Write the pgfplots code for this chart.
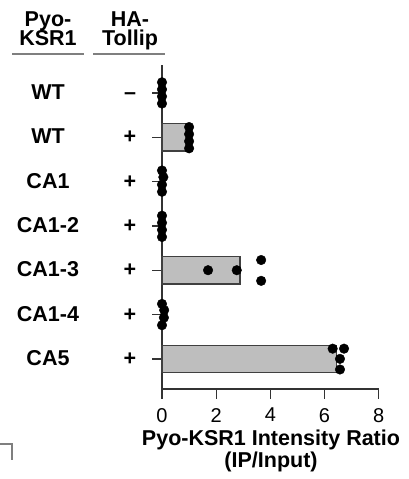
\documentclass[border=0pt]{standalone}
\usepackage{fontspec}
\setmainfont{Liberation Sans}
\usepackage{pgfplots}
\pgfplotsset{compat=1.18}
\definecolor{barfill}{HTML}{BEBEBE}
\definecolor{bardraw}{HTML}{404040}
\definecolor{axisgray}{HTML}{333333}
\definecolor{linegray}{HTML}{7F7F7F}
\newcommand{\lab}{\fontsize{21.5bp}{24bp}\selectfont\bfseries}
\begin{document}
\begin{tikzpicture}[x=1bp,y=1bp]
\useasboundingbox (0,0) rectangle (408,479);
\begin{axis}[at={(162bp,90bp)}, anchor=south west, scale only axis,
  width=216.7bp, height=324bp,
  xmin=0, xmax=8, ymin=-7.68, ymax=-0.37,
  axis x line*=bottom, axis y line*=left,
  xtick={0,2,4,6,8}, ytick={-7,-6,-5,-4,-3,-2,-1}, yticklabels={},
  tick align=outside, major tick length=10bp,
  axis line style={-, axisgray, line width=1.3bp},
  tick style={axisgray, line width=1.3bp},
  xticklabel style={font=\fontsize{20bp}{22bp}\selectfont, inner sep=0pt},
  xticklabel shift=9bp,
  /pgf/number format/assume math mode=true,
  clip=false]
\addplot[xbar, bar width=0.62, fill=barfill, draw=bardraw, line width=1.2bp]
  coordinates {(0.9,-2) (2.88,-5) (6.45,-7)};
\addplot[only marks, mark=*, mark size=4.8bp, black] coordinates {
  (0,-0.76) (0,-0.92) (0,-1.08) (0,-1.24)
  (1,-1.77) (1,-1.93) (1,-2.09) (1,-2.25)
  (0,-2.75) (0.05,-2.9) (0,-3.07) (0,-3.23)
  (0,-3.77) (0,-3.93) (0,-4.09) (0,-4.25)
  (1.70,-5) (2.76,-5) (3.66,-4.77) (3.66,-5.24)
  (0,-5.76) (0.08,-5.9) (0.07,-6.07) (0,-6.24)
  (6.30,-6.77) (6.72,-6.77) (6.57,-7.0) (6.57,-7.24)
};
\end{axis}
% headers
\node[anchor=base, inner sep=0pt] at (48,452.8) {\lab Pyo-};
\node[anchor=base, inner sep=0pt] at (48,433) {\lab KSR1};
\node[anchor=base, inner sep=0pt] at (130,452.8) {\lab HA-};
\node[anchor=base, inner sep=0pt] at (130,433) {\lab Tollip};
\draw[linegray, line width=2bp] (12,425) -- (84,425);
\draw[linegray, line width=2bp] (93,425) -- (165,425);
% row labels
\foreach \name/\sign/\yy in {WT/{--}/93, WT/+/137.3, CA1/+/181.7, CA1-2/+/226, CA1-3/+/270.3, CA1-4/+/314.7, CA5/+/359} {
  \node[anchor=base, inner sep=0pt] at (48,{479-\yy-6.5}) {\lab \name};
  \node[anchor=base, inner sep=0pt] at (130,{479-\yy-6.5}) {\lab \sign};
}
% x label
\node[anchor=base, inner sep=0pt] at (271,33) {\lab Pyo-KSR1 Intensity Ratio};
\node[anchor=base, inner sep=0pt] at (271,11.5) {\lab (IP/Input)};
% corner artifact
\draw[linegray, line width=2bp] (0,35) -- (12,35) -- (12,19);
\end{tikzpicture}
\end{document}
